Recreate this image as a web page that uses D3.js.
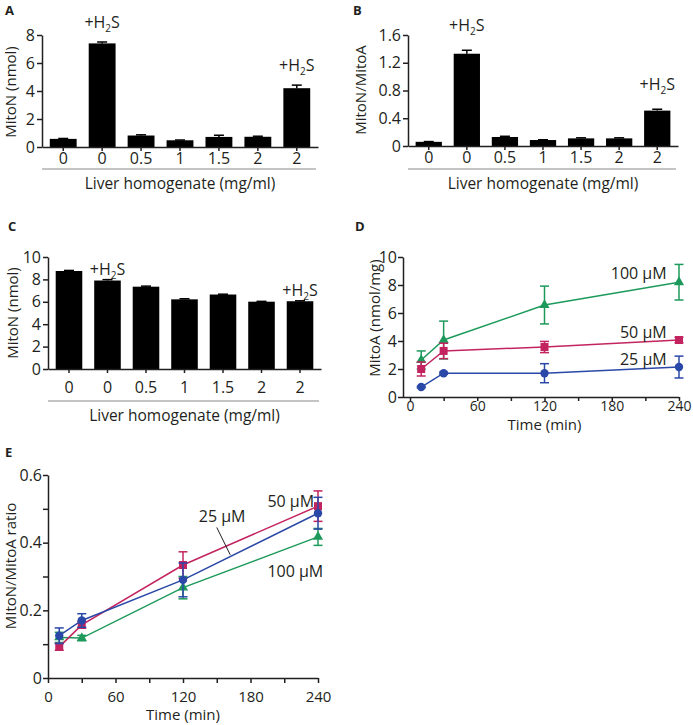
<!DOCTYPE html>
<html>
<head>
<meta charset="utf-8">
<script src="https://cdn.jsdelivr.net/npm/d3@7"></script>
<style>
  body { margin: 0; background: #fff; }
  text { font-family: "Open Sans", sans-serif; fill: #231f20; }
</style>
</head>
<body>
<div id="chart"></div>
<script>
// data
const doses = ["0", "0", "0.5", "1", "1.5", "2", "2"]
const h2sFlag = [false, true, false, false, false, false, true]
const mitoNA = [0.58, 7.4, 0.82, 0.48, 0.72, 0.73, 4.2]
const mitoNAErr = [0.03, 0.1, 0.05, 0.02, 0.12, 0.04, 0.22]
const ratioB = [0.06, 1.33, 0.13, 0.086, 0.11, 0.11, 0.51]
const ratioBErr = [0.004, 0.05, 0.01, 0.004, 0.008, 0.008, 0.02]
const mitoNC = [8.75, 7.9, 7.35, 6.22, 6.65, 6.01, 6.05]
const mitoNCErr = [0.05, 0.08, 0.05, 0.05, 0.03, 0.03, 0.04]

const times = [10, 30, 120, 240]
const seriesD = [
  { name: "100 µM", color: "#1d9a5b", shape: "triangle", vals: [2.64, 4.07, 6.57, 8.2], errs: [0.65, 1.35, 1.35, 1.27] },
  { name: "50 µM", color: "#c3245f", shape: "square", vals: [2.0, 3.29, 3.57, 4.07], errs: [0.5, 0.55, 0.4, 0.2] },
  { name: "25 µM", color: "#2a48a7", shape: "circle", vals: [0.71, 1.7, 1.7, 2.14], errs: [0.05, 0.08, 0.68, 0.78] }
]
const seriesE = [
  { name: "100 µM", color: "#1d9a5b", shape: "triangle", vals: [0.12, 0.118, 0.267, 0.417], errs: [0.015, 0.008, 0.033, 0.025] },
  { name: "50 µM", color: "#c3245f", shape: "square", vals: [0.092, 0.157, 0.334, 0.508], errs: [0.01, 0.01, 0.039, 0.045] },
  { name: "25 µM", color: "#2a48a7", shape: "circle", vals: [0.125, 0.17, 0.29, 0.487], errs: [0.023, 0.02, 0.05, 0.047] }
]
const timeTicks = [0, 30, 60, 90, 120, 150, 180, 210, 240]

const FS = 15

const svg = d3.select("#chart")
  .append("svg")
    .attr("width", 693)
    .attr("height", 725)

function styleAxis(g, fs) {
  g.selectAll("path, line").attr("stroke", "#231f20").attr("stroke-width", 1.5)
  g.selectAll("text").style("font-size", fs + "px").style("font-family", "'Open Sans', sans-serif").attr("fill", "#231f20")
}

function h2sLabel(g, x, y) {
  const t = g.append("text")
    .attr("x", x).attr("y", y)
    .attr("text-anchor", "middle")
    .style("font-size", "16px")
  t.append("tspan").text("+H")
  t.append("tspan").text("2").attr("dy", 4).style("font-size", "10px")
  t.append("tspan").text("S").attr("dy", -4)
}

function panelLetter(x, y, s) {
  svg.append("text").attr("x", x).attr("y", y).text(s)
    .style("font-size", "13px").style("font-weight", "bold")
}

function yTitle(x, y, s) {
  svg.append("text")
    .attr("transform", `translate(${x},${y}) rotate(-90)`)
    .attr("text-anchor", "middle")
    .style("font-size", FS + "px")
    .text(s)
}

function drawBars(opt) {
  const g = svg.append("g")
  const x = d3.scaleBand()
    .domain(d3.range(opt.vals.length))
    .range(opt.xRange)
    .paddingInner(0.31)
    .paddingOuter(0.2)
  const y = d3.scaleLinear().domain(opt.yDomain).range(opt.yRange)

  // bars
  g.selectAll("rect.bar")
    .data(opt.vals)
    .join("rect")
      .attr("class", "bar")
      .attr("x", (d, i) => x(i))
      .attr("width", x.bandwidth())
      .attr("y", d => y(d))
      .attr("height", d => y(0) - y(d))
      .attr("fill", "#000")

  // error bars
  const eb = g.selectAll("g.err")
    .data(opt.vals)
    .join("g")
  eb.append("line")
    .attr("x1", (d, i) => x(i) + x.bandwidth() / 2)
    .attr("x2", (d, i) => x(i) + x.bandwidth() / 2)
    .attr("y1", d => y(d))
    .attr("y2", (d, i) => y(d + opt.errs[i]))
    .attr("stroke", "#000").attr("stroke-width", 1.5)
  eb.append("line")
    .attr("x1", (d, i) => x(i) + x.bandwidth() / 2 - 5)
    .attr("x2", (d, i) => x(i) + x.bandwidth() / 2 + 5)
    .attr("y1", (d, i) => y(d + opt.errs[i]))
    .attr("y2", (d, i) => y(d + opt.errs[i]))
    .attr("stroke", "#000").attr("stroke-width", 1.5)

  // axes
  g.append("g")
    .attr("transform", `translate(${opt.xRange[0]},0)`)
    .call(d3.axisLeft(y).tickValues(opt.yTicks).tickFormat(opt.yFormat).tickSize(5).tickSizeOuter(0).tickPadding(2))
    .call(a => styleAxis(a, FS + 1))
  g.append("g")
    .attr("transform", `translate(0,${opt.yRange[0]})`)
    .call(d3.axisBottom(x).tickFormat(i => doses[i]).tickSize(4).tickSizeOuter(0).tickPadding(opt.xPad))
    .call(a => styleAxis(a, FS + 1))

  // +H2S labels
  opt.vals.forEach((d, i) => {
    if (h2sFlag[i]) h2sLabel(g, x(i) + x.bandwidth() / 2, y(d + opt.errs[i]) - opt.labelGap)
  })

  // grey underline and category title
  g.append("line")
    .attr("x1", opt.xRange[0]).attr("x2", opt.xRange[1] - 2)
    .attr("y1", opt.lineY).attr("y2", opt.lineY)
    .attr("stroke", "#8a8a8a").attr("stroke-width", 1.2)
  g.append("text")
    .attr("x", (opt.xRange[0] + opt.xRange[1]) / 2)
    .attr("y", opt.lineY + 20)
    .attr("text-anchor", "middle")
    .style("font-size", "15.5px")
    .text("Liver homogenate (mg/ml)")
}

function marker(sel, shape, color) {
  if (shape === "circle") {
    sel.append("circle").attr("r", 4.2).attr("fill", color)
  } else if (shape === "square") {
    sel.append("rect").attr("x", -4).attr("y", -4).attr("width", 8).attr("height", 8).attr("fill", color)
  } else {
    sel.append("path").attr("d", d3.symbol(d3.symbolTriangle, 45)()).attr("fill", color)
  }
}

function drawLines(opt) {
  const g = svg.append("g")
  const x = d3.scaleLinear().domain([0, 240]).range(opt.xRange)
  const y = d3.scaleLinear().domain(opt.yDomain).range(opt.yRange)

  g.append("g")
    .attr("transform", `translate(${opt.yAxisX},0)`)
    .call(d3.axisLeft(y).tickValues(opt.yTicks).tickFormat(opt.yFormat).tickSize(5).tickSizeOuter(0).tickPadding(1))
    .call(a => styleAxis(a, FS + 1))
  g.append("g")
    .attr("transform", `translate(0,${opt.yRange[0]})`)
    .call(d3.axisBottom(x).tickValues(timeTicks).tickFormat(d => d % 60 === 0 ? d : "").tickSize(opt.xTick).tickSizeOuter(0).tickPadding(opt.xPad))
    .call(a => styleAxis(a, opt.xFs))
    .call(a => a.select(".domain").attr("d", `M${opt.yAxisX},0.5H${opt.xRange[1]}`))

  g.append("text")
    .attr("x", (opt.xRange[0] + opt.xRange[1]) / 2)
    .attr("y", opt.yRange[0] + opt.titleGap)
    .attr("text-anchor", "middle")
    .style("font-size", FS + "px")
    .text("Time (min)")

  const line = d3.line().x((d, i) => x(times[i])).y(d => y(d))

  opt.series.forEach(s => {
    const sg = g.append("g")
    sg.append("path")
      .attr("d", line(s.vals))
      .attr("fill", "none")
      .attr("stroke", s.color)
      .attr("stroke-width", 1.5)
    s.vals.forEach((v, i) => {
      const cx = x(times[i])
      const lo = y(v - s.errs[i]), hi = y(v + s.errs[i])
      sg.append("line").attr("x1", cx).attr("x2", cx).attr("y1", lo).attr("y2", hi)
        .attr("stroke", s.color).attr("stroke-width", 1.5)
      ;[lo, hi].forEach(yy => sg.append("line")
        .attr("x1", cx - 4.5).attr("x2", cx + 4.5).attr("y1", yy).attr("y2", yy)
        .attr("stroke", s.color).attr("stroke-width", 1.5))
      const m = sg.append("g").attr("transform", `translate(${cx},${y(v)})`)
      marker(m, s.shape, s.color)
    })
  })

  opt.labels.forEach(l => {
    g.append("text")
      .attr("x", x(l.t)).attr("y", y(l.v))
      .attr("text-anchor", l.anchor)
      .style("font-size", "16px")
      .text(l.text)
  })
  if (opt.leader) {
    g.append("line")
      .attr("x1", x(opt.leader[0][0])).attr("y1", y(opt.leader[0][1]))
      .attr("x2", x(opt.leader[1][0])).attr("y2", y(opt.leader[1][1]))
      .attr("stroke", "#231f20").attr("stroke-width", 1)
  }
}

// Panel A
panelLetter(5, 15, "A")
yTitle(16, 92, "MitoN (nmol)")
drawBars({
  vals: mitoNA, errs: mitoNAErr,
  xRange: [42, 318], yRange: [147, 35], yDomain: [0, 8], yTicks: [0, 2, 4, 6, 8], yFormat: d3.format("d"),
  xPad: 2, labelGap: 14, lineY: 169
})

// Panel B
panelLetter(353, 15, "B")
yTitle(366, 90, "MitoN/MitoA")
drawBars({
  vals: ratioB, errs: ratioBErr,
  xRange: [408, 678], yRange: [146, 35], yDomain: [0, 1.6], yTicks: [0, 0.4, 0.8, 1.2, 1.6], yFormat: d => d === 0 ? "0" : d3.format(".1f")(d),
  xPad: 2, labelGap: 19, lineY: 169
})

// Panel C
panelLetter(8, 231, "C")
yTitle(18, 313, "MitoN (nmol)")
drawBars({
  vals: mitoNC, errs: mitoNCErr,
  xRange: [48, 321], yRange: [369, 257], yDomain: [0, 10], yTicks: [0, 2, 4, 6, 8, 10], yFormat: d3.format("d"),
  xPad: 9, labelGap: 5, lineY: 401
})

// Panel D
panelLetter(355, 231, "D")
yTitle(380, 318, "MitoA (nmol/mg)")
drawLines({
  series: seriesD,
  xRange: [410, 679], yAxisX: 403, yRange: [397, 257], yDomain: [0, 10], yTicks: [0, 2, 4, 6, 8, 10], yFormat: d3.format("d"),
  xTick: 4, xPad: 0, xFs: 14, titleGap: 33,
  labels: [
    { text: "100 µM", t: 229, v: 8.4, anchor: "end" },
    { text: "50 µM", t: 229, v: 4.2, anchor: "end" },
    { text: "25 µM", t: 229, v: 2.3, anchor: "end" }
  ]
})

// Panel E
panelLetter(5, 457, "E")
yTitle(16, 566, "MItoN/MitoA ratio")
drawLines({
  series: seriesE,
  xRange: [48, 318], yAxisX: 48, yRange: [678, 475], yDomain: [0, 0.6], yTicks: [0, 0.1, 0.2, 0.3, 0.4, 0.5, 0.6],
  yFormat: d => d === 0 ? "0" : (Math.round(d * 10) % 2 === 0 ? d3.format(".1f")(d) : ""),
  xTick: 5, xPad: 8, xFs: FS, titleGap: 42,
  labels: [
    { text: "50 µM", t: 195, v: 0.505, anchor: "start" },
    { text: "25 µM", t: 134, v: 0.462, anchor: "start" },
    { text: "100 µM", t: 195, v: 0.3, anchor: "start" }
  ],
  leader: [[150, 0.445], [162, 0.364]]
})
</script>
</body>
</html>
